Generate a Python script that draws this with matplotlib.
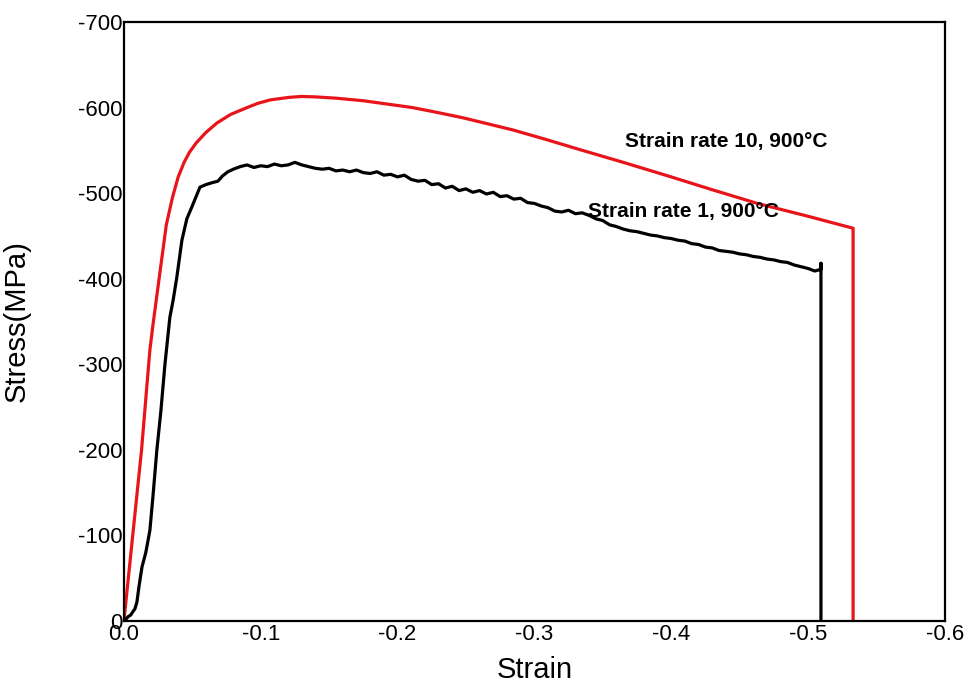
import matplotlib
matplotlib.use("Agg")
import matplotlib.pyplot as plt

plt.rcParams['font.family'] = ['Liberation Sans', 'DejaVu Sans']
plt.rcParams['axes.unicode_minus'] = False

# Strain rate 10 s^-1, 900 °C (compression: negative strain / stress)
strain_10 = [0.0, -0.0129, -0.019, -0.0214, -0.0263, -0.031, -0.0355, -0.0397,
             -0.044, -0.048, -0.053, -0.060, -0.068, -0.078, -0.090, -0.098,
             -0.107, -0.121, -0.130, -0.140, -0.155, -0.175, -0.193, -0.211,
             -0.230, -0.248, -0.266, -0.284, -0.308, -0.333, -0.365, -0.400,
             -0.430, -0.463, -0.500, -0.533, -0.533]
stress_10 = [0, -200, -317, -348, -407, -463, -495, -519,
             -536, -548, -559, -571, -582, -592, -600, -605,
             -609, -612, -613, -612.5, -611, -608, -604, -600,
             -594, -588, -581, -574, -563, -551, -536, -519,
             -504, -488, -473, -459, 0]

# Strain rate 1 s^-1, 900 °C
strain_1 = [0.0, -0.0015, -0.003, -0.005, -0.0066, -0.008, -0.0095, -0.011,
            -0.0132, -0.016, -0.019, -0.0212, -0.0241, -0.027, -0.030, -0.0336,
            -0.036, -0.0387, -0.0424, -0.046, -0.0497, -0.0556, -0.060, -0.064,
            -0.0687, -0.072, -0.076, -0.080,
            -0.085, -0.090, -0.095, -0.100, -0.105, -0.110, -0.115, -0.120,
            -0.125, -0.130, -0.135, -0.140, -0.145, -0.150, -0.155, -0.160,
            -0.165, -0.170, -0.175, -0.180, -0.185, -0.190, -0.195, -0.200,
            -0.205, -0.210, -0.215, -0.220, -0.225, -0.230, -0.235, -0.240,
            -0.245, -0.250, -0.255, -0.260, -0.265, -0.270, -0.275, -0.280,
            -0.285, -0.290, -0.295, -0.300, -0.305, -0.310, -0.315, -0.320,
            -0.325, -0.330, -0.335, -0.340, -0.345, -0.350, -0.355, -0.360,
            -0.365, -0.370, -0.375, -0.380, -0.385, -0.390, -0.395, -0.400,
            -0.405, -0.410, -0.415, -0.420, -0.425, -0.430, -0.435, -0.440,
            -0.445, -0.450, -0.455, -0.460, -0.465, -0.470, -0.475, -0.480,
            -0.485, -0.490, -0.495, -0.500, -0.505, -0.5095, -0.5095, -0.5095]
stress_1 = [0, -2, -5, -7, -11, -14, -22, -40,
            -63, -80, -106, -145, -200, -245, -300, -355,
            -375, -402, -445, -470, -484, -507, -510, -512,
            -514, -520, -525, -528,
            -531, -533, -530, -532, -531, -534, -532, -533,
            -536, -533, -531, -529, -528, -529, -526, -527,
            -525, -527, -524, -523, -525, -521, -522, -519,
            -521, -516, -514, -515, -510, -511, -506, -508,
            -503, -505, -501, -503, -499, -501, -496, -497,
            -493, -494, -489, -488, -485, -483, -479, -478,
            -480, -476, -477, -474, -470, -468, -463, -461,
            -458, -456, -455, -453, -451, -450, -448, -447,
            -445, -444, -441, -440, -437, -436, -433, -432,
            -431, -429, -428, -426, -425, -423, -422, -420,
            -419, -416, -414, -412, -409, -411, -418, 0]

x_ticks = [0.0, -0.1, -0.2, -0.3, -0.4, -0.5, -0.6]
y_ticks = [0, -100, -200, -300, -400, -500, -600, -700]

fig = plt.figure(figsize=(9.68, 6.88), dpi=100)
ax = fig.add_axes([0.128, 0.0974, 0.848, 0.8706])

ax.plot(strain_10, stress_10, color='#e8141a', lw=2.3)
ax.plot(strain_1, stress_1, color='black', lw=2.3)

ax.set_xlim(0, -0.6)
ax.set_ylim(0, -700)
ax.set_xticks(x_ticks)
ax.set_yticks(y_ticks)
ax.set_xticklabels([f"{v:.1f}" for v in x_ticks])
ax.set_yticklabels([f"{v:d}" for v in y_ticks])
ax.tick_params(length=0, labelsize=16, pad=2)
ax.tick_params(axis='y', pad=1)
for s in ax.spines.values():
    s.set_linewidth(1.6)

ax.set_xlabel('Strain', fontsize=21, labelpad=8)
ax.set_ylabel('Stress(MPa)', fontsize=21, labelpad=34)

ax.text(-0.366, -560, 'Strain rate 10, 900°C', fontsize=15,
        fontweight='bold', va='center', ha='left')
ax.text(-0.339, -478, 'Strain rate 1, 900°C', fontsize=15,
        fontweight='bold', va='center', ha='left')

fig.savefig('out.png', dpi=100)
